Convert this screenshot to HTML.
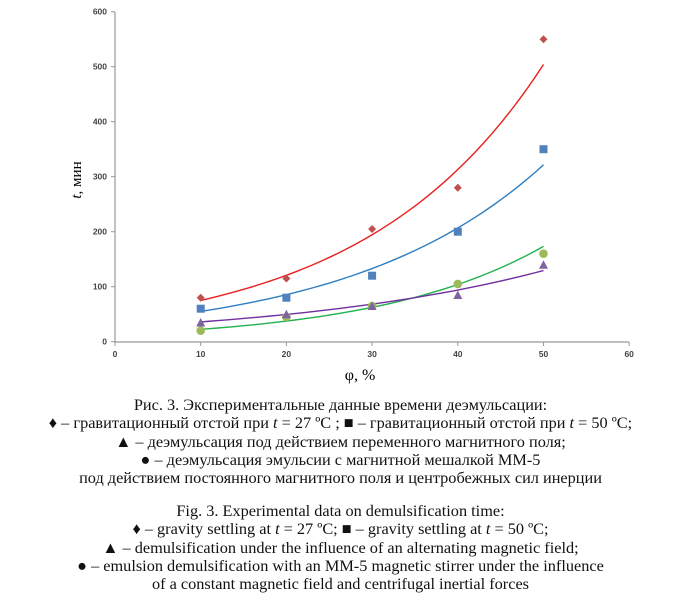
<!DOCTYPE html>
<html><head><meta charset="utf-8"><style>
body{margin:0;background:#fff;width:681px;height:608px;overflow:hidden;font-family:"Liberation Serif",serif}
.cap{position:absolute;left:-20px;width:721px;text-align:center;font-size:16.3px;color:#111;line-height:18.3px}
</style></head><body>
<svg id="s" width="681" height="390" style="position:absolute;left:0;top:0" xmlns="http://www.w3.org/2000/svg">
<line x1="115" y1="12" x2="115" y2="342" stroke="#999" stroke-width="1.2"/>
<line x1="115" y1="342" x2="629" y2="342" stroke="#999" stroke-width="1.2"/>
<text x="81" y="180" font-family="Liberation Serif,serif" font-size="15" transform="rotate(-90 81 180)" text-anchor="middle"><tspan font-style="italic">t</tspan>, мин</text>
<text x="360" y="380" font-family="Liberation Serif,serif" font-size="16" text-anchor="middle">φ, %</text>
</svg>
<div class="cap" style="top:396px">Рис. 3. Экспериментальные данные времени деэмульсации:<br>♦ – гравитационный отстой при <i>t</i> = 27 ºС ; ■ – гравитационный отстой при <i>t</i> = 50 ºС;<br>▲ – деэмульсация под действием переменного магнитного поля;<br>● – деэмульсация эмульсии с магнитной мешалкой ММ-5<br>под действием постоянного магнитного поля и центробежных сил инерции</div>
<div class="cap" style="top:502px">Fig. 3. Experimental data on demulsification time:<br>♦ – gravity settling at <i>t</i> = 27 ºC; ■ – gravity settling at <i>t</i> = 50 ºC;<br>▲ – demulsification under the influence of an alternating magnetic field;<br>● – emulsion demulsification with an MM-5 magnetic stirrer under the influence<br>of a constant magnetic field and centrifugal inertial forces</div>
<script>
var s=document.getElementById('s'),NS='http://www.w3.org/2000/svg';
function X(v){return 115+v*8.57}function Y(v){return 341.7-v*0.55}
function el(t,a){var e=document.createElementNS(NS,t);for(var k in a)e.setAttribute(k,a[k]);s.appendChild(e);return e}
for(var i=0;i<=6;i++){var y=Y(i*100);el('line',{x1:111,y1:y,x2:115,y2:y,stroke:'#999'});var t=el('text',{x:107,y:y+3,'text-anchor':'end','font-family':'Liberation Sans,sans-serif','font-size':8.5,'font-weight':'bold',fill:'#444'});t.textContent=i*100;
var x=X(i*10);el('line',{x1:x,y1:342,x2:x,y2:346,stroke:'#999'});t=el('text',{x:x,y:357,'text-anchor':'middle','font-family':'Liberation Sans,sans-serif','font-size':8.5,'font-weight':'bold',fill:'#444'});t.textContent=i*10;}
var curves=[[75,1.61,'#e8201e'],[55,1.555,'#2e7fc2'],[22.5,1.666,'#22b050'],[36,1.377,'#7030a0']];
curves.forEach(function(c){var p=[];for(var v=10;v<=50;v+=1)p.push(X(v)+','+Y(c[0]*Math.pow(c[1],(v-10)/10)));el('polyline',{points:p.join(' '),fill:'none',stroke:c[2],'stroke-width':1.4});});
var xs=[10,20,30,40,50];
[20,45,65,105,160].forEach(function(v,i){el('circle',{cx:X(xs[i]),cy:Y(v),r:4.3,fill:'#9bbb59'})});
[35,50,65,85,140].forEach(function(v,i){var x=X(xs[i]),y=Y(v);el('polygon',{points:(x-4.5)+','+(y+4)+' '+(x+4.5)+','+(y+4)+' '+x+','+(y-4.5),fill:'#8064a2'})});
[60,80,120,200,350].forEach(function(v,i){var x=X(xs[i]),y=Y(v);el('rect',{x:x-4,y:y-4,width:8,height:8,fill:'#4f81bd'})});
[80,115,205,280,550].forEach(function(v,i){var x=X(xs[i]),y=Y(v);el('polygon',{points:x+','+(y-4)+' '+(x+4)+','+y+' '+x+','+(y+4)+' '+(x-4)+','+y,fill:'#c0504d'})});
</script>
</body></html>
